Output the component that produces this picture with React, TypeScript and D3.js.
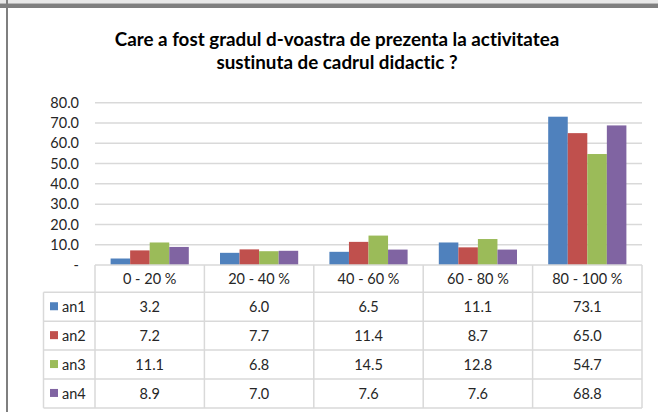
import React from "react";
import * as d3 from "d3";

const categories = ["0 - 20 %", "20 - 40 %", "40 - 60 %", "60 - 80 %", "80 - 100 %"];
const seriesNames = ["an1", "an2", "an3", "an4"];
const an1 = [3.2, 6.0, 6.5, 11.1, 73.1];
const an2 = [7.2, 7.7, 11.4, 8.7, 65.0];
const an3 = [11.1, 6.8, 14.5, 12.8, 54.7];
const an4 = [8.9, 7.0, 7.6, 7.6, 68.8];
const seriesValues = [an1, an2, an3, an4];
const colors = ["#4F81BD", "#C0504D", "#9BBB59", "#8064A2"];
const yTicks = [0, 10, 20, 30, 40, 50, 60, 70, 80];
const titleLines = [
  "Care a fost gradul d-voastra de prezenta la activitatea",
  "sustinuta de cadrul didactic ?",
];

const W = 658;
const H = 412;
const FONT = "Lato, 'Open Sans', sans-serif";

export default function App() {
  const plotLeft = 95;
  const plotRight = 642;
  const plotTop = 102.7;
  const plotBottom = 265;
  const x0 = d3.scaleBand<string>().domain(categories).range([plotLeft, plotRight]).paddingInner(0).paddingOuter(0);
  const bw = x0.bandwidth();
  const x1 = d3.scaleBand<string>().domain(seriesNames).range([15.6, bw - 15.6]).padding(0);
  const y = d3.scaleLinear().domain([0, 80]).range([plotBottom, plotTop]);

  const headerTop = 265;
  const headerH = 27.3;
  const rowH = 28.9;
  const legendLeft = 43.5;
  const tableBottom = headerTop + headerH + rowH * 4;
  const gridColor = "#d9d9d9";
  const tableColor = "#d9d9d9";
  const fmt = d3.format(".1f");
  const fs = 14.5;

  return (
    <svg
      width={W}
      height={H}
      style={{ position: "absolute", left: 0, top: 0, fontVariantLigatures: "none" }}
      fontFamily={FONT}
    >
      <rect x={0} y={0} width={W} height={H} fill="#fff" />
      {/* frame */}
      <rect x={0} y={0} width={W} height={3.5} fill="#e8e8e8" />
      <rect x={0} y={3.5} width={W} height={4.5} fill="#7f7f7f" />
      <rect x={6} y={0} width={2} height={H} fill="#7f7f7f" />

      {/* title */}
      {titleLines.map((t, i) => (
        <text key={i} x={337} y={46 + i * 23} textAnchor="middle" fontSize={18.8} fontWeight="bold" fill="#000">
          {t}
        </text>
      ))}

      {/* grid */}
      {yTicks.map((t) => (
        <g key={t}>
          {t > 0 && (
            <line x1={plotLeft} x2={plotRight} y1={y(t)} y2={y(t)} stroke={gridColor} strokeWidth={1.5} />
          )}
          <text x={79} y={y(t)} dy="0.35em" textAnchor="end" fontSize={fs} fill="#262626">
            {t === 0 ? "-" : fmt(t)}
          </text>
        </g>
      ))}

      {/* bars */}
      {categories.map((c, ci) => (
        <g key={c} transform={`translate(${x0(c)},0)`}>
          {seriesNames.map((s, si) => {
            const v = seriesValues[si][ci];
            return (
              <rect
                key={s}
                x={x1(s)}
                y={y(v)}
                width={x1.bandwidth()}
                height={y(0) - y(v)}
                fill={colors[si]}
              />
            );
          })}
        </g>
      ))}

      {/* table lines */}
      <g stroke={tableColor} strokeWidth={1.5} fill="none">
        <line x1={plotLeft} x2={plotRight} y1={headerTop} y2={headerTop} />
        <line x1={legendLeft} x2={plotRight} y1={headerTop + headerH} y2={headerTop + headerH} />
        {seriesNames.map((s, i) => (
          <line
            key={s}
            x1={legendLeft}
            x2={plotRight}
            y1={headerTop + headerH + rowH * (i + 1)}
            y2={headerTop + headerH + rowH * (i + 1)}
          />
        ))}
        <line x1={legendLeft} x2={legendLeft} y1={headerTop + headerH} y2={tableBottom} />
        {categories.map((c) => (
          <line key={c} x1={x0(c)} x2={x0(c)} y1={headerTop} y2={tableBottom} />
        ))}
        <line x1={plotRight} x2={plotRight} y1={headerTop} y2={tableBottom} />
      </g>

      {/* header labels */}
      {categories.map((c) => (
        <text
          key={c}
          x={(x0(c) as number) + bw / 2}
          y={headerTop + headerH / 2}
          dy="0.35em"
          textAnchor="middle"
          fontSize={fs}
          fill="#262626"
        >
          {c}
        </text>
      ))}

      {/* rows */}
      {seriesNames.map((s, si) => {
        const cy = headerTop + headerH + rowH * si + rowH / 2;
        return (
          <g key={s}>
            <rect x={50} y={cy - 4.5} width={8} height={8} fill={colors[si]} />
            <text x={62} y={cy} dy="0.35em" fontSize={fs} fill="#262626">
              {s}
            </text>
            {categories.map((c, ci) => (
              <text
                key={c}
                x={(x0(c) as number) + bw / 2}
                y={cy}
                dy="0.35em"
                textAnchor="middle"
                fontSize={fs}
                fill="#262626"
              >
                {fmt(seriesValues[si][ci])}
              </text>
            ))}
          </g>
        );
      })}
    </svg>
  );
}
